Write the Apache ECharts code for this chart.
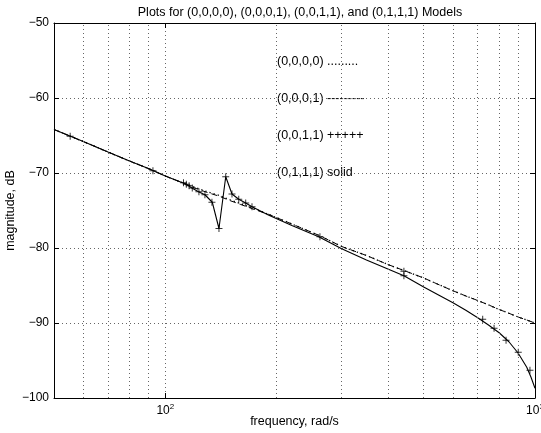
<!DOCTYPE html>
<html>
<head>
<meta charset="utf-8">
<style>
  html, body { margin: 0; padding: 0; background: #fff; }
  #main { width: 541px; height: 433px; }
</style>
<script src="https://cdn.jsdelivr.net/npm/echarts@6/dist/echarts.min.js"></script>
</head>
<body>
<div id="main"></div>
<script>
// (0,1,1,1) solid line
var lineFreq = [50, 60, 70, 80, 90, 100, 110, 114, 118, 123, 128, 134, 139.7, 145.7, 151.5, 158, 165, 171.6, 190, 220,
  260, 300, 350, 400, 442, 500, 550, 600, 650, 700, 750, 800, 850, 900, 950, 975, 1000];
var solidDb = [-64.2, -65.8, -67.2, -68.4, -69.4, -70.4, -71.2, -71.5, -72.0, -72.5, -72.9, -73.9, -77.4, -70.5, -72.8, -73.5, -74.0, -74.5, -75.6, -77.0,
  -78.5, -80.1, -81.6, -82.8, -83.7, -85.2, -86.3, -87.3, -88.3, -89.3, -90.3, -91.3, -92.5, -94.0, -95.9, -97.2, -98.7];

// (0,0,0,1) dashed and (0,0,0,0) dotted
var smoothFreq = [50, 60, 70, 80, 90, 100, 110, 120, 130, 140, 150, 160, 175, 190, 220, 260, 300, 350, 400, 442,
  500, 550, 600, 650, 700, 750, 800, 850, 900, 950, 1000];
var dashedDb = [-64.2, -65.8, -67.2, -68.4, -69.4, -70.4, -71.2, -72.0, -72.6, -73.1, -73.7, -74.2, -74.9, -75.5, -76.8, -78.3, -79.8, -81.0, -82.2, -83.0,
  -84.0, -84.9, -85.7, -86.4, -87.0, -87.6, -88.2, -88.7, -89.2, -89.6, -90.0];
var dottedDb = [-64.2, -65.8, -67.2, -68.4, -69.4, -70.4, -71.2, -71.9, -72.5, -73.0, -73.6, -74.1, -74.8, -75.5, -76.8, -78.3, -79.8, -81.0, -82.2, -83.0,
  -84.0, -84.9, -85.7, -86.4, -87.0, -87.6, -88.2, -88.7, -89.2, -89.6, -90.0];

// (0,0,1,1) plus markers
var plusFreq = [55.3, 92.6, 112, 114, 116, 118.3, 123.3, 128, 133.7, 139.7, 145.7, 151.5, 158, 165, 171.6, 262, 442, 442, 722, 775, 835, 901, 969];
var plusDb = [-65.1, -69.7, -71.3, -71.5, -71.7, -72.0, -72.5, -72.9, -73.9, -77.4, -70.5, -72.8, -73.5, -74.0, -74.5, -78.5, -83.1, -83.7, -89.5, -90.7, -92.3, -93.9, -96.3];

var minorGrid = [60, 70, 80, 90, 200, 300, 400, 500, 600, 700, 800, 900];
var notes = ['(0,0,0,0) .........', '(0,0,0,1) ---------', '(0,0,1,1) +++++', '(0,1,1,1) solid'];
var noteY = [62, 99, 136, 173];

function pairs(xs, ys) {
  return xs.map(function (x, i) { return [x, ys[i]]; });
}

var font = 'Liberation Sans, Arial, sans-serif';
var gridStyle = { color: '#666', width: 1, type: [1, 3] };

var myChart = echarts.init(document.getElementById('main'));
myChart.setOption({
  animation: false,
  textStyle: { fontFamily: font },
  title: {
    text: 'Plots for (0,0,0,0), (0,0,0,1), (0,0,1,1), and (0,1,1,1) Models',
    left: 295,
    textAlign: 'center',
    top: 1,
    textStyle: { fontSize: 12.5, fontWeight: 'normal', color: '#000', fontFamily: font }
  },
  grid: { left: 54, right: 6, top: 23, bottom: 35, containLabel: false, outerBoundsMode: 'none' },
  xAxis: [
    {
      type: 'log',
      logBase: 10,
      min: 50,
      max: 1000,
      name: 'frequency, rad/s',
      nameLocation: 'middle',
      nameGap: 17,
      nameMoveOverlap: false,
      nameTextStyle: { fontSize: 12.5, color: '#000' },
      axisLine: { lineStyle: { color: '#000', width: 1 } },
      axisTick: { inside: true, length: 5, lineStyle: { color: '#000' } },
      axisLabel: {
        color: '#000',
        fontSize: 12,
        margin: 5,
        formatter: function (v) {
          var e = Math.round(Math.log10(v));
          if (Math.abs(Math.log10(v) - e) < 1e-6 && e >= 2) return '10{s|' + e + '}';
          return '';
        },
        rich: { s: { fontSize: 8, padding: [0, 0, 8, 0] } }
      },
      splitLine: { show: true, lineStyle: gridStyle }
    },
    {
      type: 'log',
      logBase: 10,
      min: 50,
      max: 1000,
      position: 'top',
      axisLine: { lineStyle: { color: '#000', width: 1 } },
      axisTick: { inside: true, length: 5, lineStyle: { color: '#000' } },
      axisLabel: { show: false },
      splitLine: { show: false }
    }
  ],
  yAxis: [
    {
      type: 'value',
      min: -100,
      max: -50,
      interval: 10,
      name: 'magnitude, dB',
      nameLocation: 'middle',
      nameGap: 37,
      nameMoveOverlap: false,
      nameTextStyle: { fontSize: 12.5, color: '#000' },
      axisLine: { show: true, lineStyle: { color: '#000', width: 1 } },
      axisTick: { inside: true, length: 5, lineStyle: { color: '#000' } },
      axisLabel: {
        color: '#000',
        fontSize: 12,
        margin: 5,
        formatter: function (v) { return String(v).replace('-', '\u2212'); }
      },
      splitLine: { show: true, lineStyle: gridStyle }
    },
    {
      type: 'value',
      min: -100,
      max: -50,
      interval: 10,
      position: 'right',
      axisLine: { show: true, lineStyle: { color: '#000', width: 1 } },
      axisTick: { inside: true, length: 5, lineStyle: { color: '#000' } },
      axisLabel: { show: false },
      splitLine: { show: false }
    }
  ],
  graphic: notes.map(function (t, i) {
    return {
      type: 'text',
      left: 277,
      top: noteY[i] - 7,
      style: { text: t, fontSize: 12.5, fontFamily: font, fill: '#000' }
    };
  }),
  series: [
    {
      name: '(0,0,0,0)',
      type: 'line',
      data: pairs(smoothFreq, dottedDb),
      showSymbol: false,
      lineStyle: { color: '#000', width: 1.3, type: [1.3, 3] },
      markLine: {
        silent: true,
        symbol: 'none',
        label: { show: false },
        lineStyle: gridStyle,
        data: minorGrid.map(function (f) { return { xAxis: f }; })
      }
    },
    {
      name: '(0,0,0,1)',
      type: 'line',
      data: pairs(smoothFreq, dashedDb),
      showSymbol: false,
      lineStyle: { color: '#000', width: 1, type: [6, 4] }
    },
    {
      name: '(0,0,1,1)',
      type: 'scatter',
      data: pairs(plusFreq, plusDb),
      symbol: 'path://M0,5L10,5M5,0L5,10',
      symbolSize: 7,
      itemStyle: { color: 'transparent', borderColor: '#000', borderWidth: 1 }
    },
    {
      name: '(0,1,1,1)',
      type: 'line',
      data: pairs(lineFreq, solidDb),
      showSymbol: false,
      lineStyle: { color: '#000', width: 1.1, type: 'solid' }
    }
  ]
});
</script>
</body>
</html>
